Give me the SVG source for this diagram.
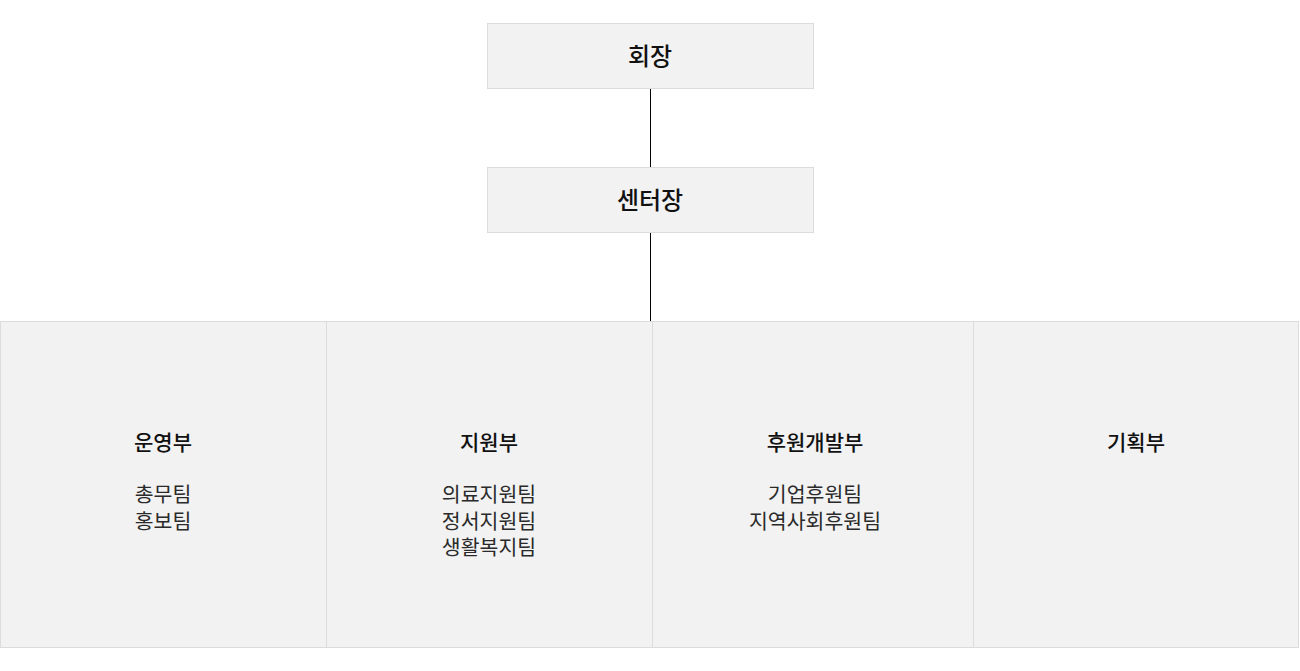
<svg xmlns="http://www.w3.org/2000/svg" width="1300" height="671" viewBox="0 0 1300 671">
<style>
.box{fill:#f2f2f2;stroke:#dcdcdc;stroke-width:1}
.t{font-family:"Noto Sans CJK KR","Noto Sans",sans-serif;font-size:21px;font-weight:500;fill:#111;text-anchor:middle}
.h{font-family:"Noto Sans CJK KR","Noto Sans",sans-serif;font-size:24px;font-weight:500;fill:#111;text-anchor:middle}
.s{font-family:"Noto Sans CJK KR","Noto Sans",sans-serif;font-size:20.5px;font-weight:400;fill:#2a2a2a;text-anchor:middle}
.c{stroke:#000;stroke-width:1;fill:none}
</style>
<rect width="1300" height="671" fill="#fff"/>
<g id="connectors">
<line class="c" x1="650.5" y1="89" x2="650.5" y2="167"/>
<line class="c" x1="650.5" y1="233" x2="650.5" y2="321"/>
</g>
<g id="chairman">
<rect class="box" x="487.5" y="23.5" width="326" height="65"/>
<text class="h" x="650" y="65">회장</text>
</g>
<g id="director">
<rect class="box" x="487.5" y="167.5" width="326" height="65"/>
<text class="h" x="650" y="209">센터장</text>
</g>
<g id="dept-operation">
<rect class="box" x="0.5" y="321.5" width="326" height="326"/>
<text class="t" x="163" y="450">운영부</text>
<text class="s" x="163" y="502">총무팀</text>
<text class="s" x="163" y="528.5">홍보팀</text>
</g>
<g id="dept-support">
<rect class="box" x="326.5" y="321.5" width="326" height="326"/>
<text class="t" x="489" y="450">지원부</text>
<text class="s" x="489" y="502">의료지원팀</text>
<text class="s" x="489" y="528.5">정서지원팀</text>
<text class="s" x="489" y="555">생활복지팀</text>
</g>
<g id="dept-sponsor">
<rect class="box" x="652.5" y="321.5" width="321" height="326"/>
<text class="t" x="815" y="450">후원개발부</text>
<text class="s" x="815" y="502">기업후원팀</text>
<text class="s" x="815" y="528.5">지역사회후원팀</text>
</g>
<g id="dept-planning">
<rect class="box" x="973.5" y="321.5" width="325" height="326"/>
<text class="t" x="1136" y="450">기획부</text>
</g>
</svg>
